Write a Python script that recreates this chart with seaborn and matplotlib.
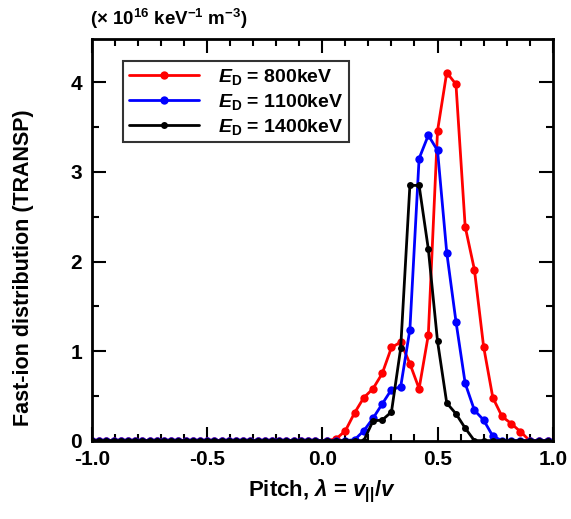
import numpy as np
import pandas as pd
import matplotlib
matplotlib.use("Agg")
import matplotlib.pyplot as plt
import seaborn as sns
from matplotlib.ticker import MultipleLocator

# ---- data ----
pitch_left = np.arange(32) / 32.0 - 1.0          # dense zero region
pitch_right = np.round(np.arange(25) * 0.04 + 0.02, 2)
pitch = np.concatenate([pitch_left, pitch_right])

zeros_left = [0.0] * len(pitch_left)
red_right = [0, 0.02, 0.11, 0.31, 0.48, 0.58, 0.75, 1.04, 1.10, 0.86, 0.58, 1.18,
             3.46, 4.11, 3.98, 2.39, 1.91, 1.05, 0.48, 0.27, 0.19, 0.10, 0.0, 0, 0]
blue_right = [0, 0, 0, 0.01, 0.11, 0.25, 0.41, 0.57, 0.60, 1.24, 3.15, 3.41, 3.24,
              2.10, 1.33, 0.64, 0.34, 0.23, 0.05, 0, 0, 0, 0, 0, 0]
black_right = [0, 0, 0, 0, 0.0, 0.22, 0.23, 0.32, 1.03, 2.85, 2.85, 2.14, 1.11,
               0.42, 0.30, 0.14, 0.0, 0, 0, 0, 0, 0, 0, 0, 0]

f800 = zeros_left + red_right
f1100 = zeros_left + blue_right
f1400 = zeros_left + black_right

labels = [r"$E_{\mathrm{D}}$ = 800keV", r"$E_{\mathrm{D}}$ = 1100keV", r"$E_{\mathrm{D}}$ = 1400keV"]
colors = ["#ff0000", "#0000ff", "#000000"]

sns.set_theme(style="white")
plt.rcParams["font.family"] = ["Liberation Sans", "DejaVu Sans"]
plt.rcParams["font.weight"] = "bold"
plt.rcParams["text.color"] = "black"
plt.rcParams["axes.labelcolor"] = "black"
plt.rcParams["xtick.color"] = "black"
plt.rcParams["ytick.color"] = "black"
plt.rcParams["mathtext.fontset"] = "custom"
plt.rcParams["mathtext.rm"] = "Liberation Sans:bold"
plt.rcParams["mathtext.it"] = "Liberation Sans:bold:italic"
plt.rcParams["mathtext.bf"] = "Liberation Sans:bold"

fig = plt.figure(figsize=(5.71, 5.19), dpi=100)
ax = fig.add_axes([0.161, 0.151, 0.807, 0.773])

for vals, lab, col, ms in zip([f800, f1100, f1400], labels, colors, [6, 6, 5]):
    sns.lineplot(x=pitch, y=vals, ax=ax, color=col, marker="o", markersize=ms,
                 markeredgewidth=0, linewidth=2, label=lab, estimator=None, sort=False)

ax.set_xlim(-1.0, 1.0)
ax.set_ylim(0, 4.48)
ax.xaxis.set_minor_locator(MultipleLocator(0.1))
ax.yaxis.set_minor_locator(MultipleLocator(0.5))
ax.set_xticks([-1.0, -0.5, 0.0, 0.5, 1.0])
ax.set_xticklabels(["-1.0", "-0.5", "0.0", "0.5", "1.0"])
ax.set_yticks([0, 1, 2, 3, 4])
ax.set_yticklabels(["0", "1", "2", "3", "4"])
ax.tick_params(which="both", direction="in", top=True, right=True, bottom=True, left=True,
               labelsize=15, width=1.5, color="black", labelcolor="black")
ax.tick_params(which="major", length=10, pad=7)
ax.tick_params(which="minor", length=5)
for lab_ in ax.get_xticklabels() + ax.get_yticklabels():
    lab_.set_fontweight("bold")
for sp in ax.spines.values():
    sp.set_linewidth(2)
    sp.set_color("black")

ax.set_xlabel(r"Pitch, $\lambda$ = $v_{||}/v$", fontsize=16, fontweight="bold",
              labelpad=6, color="black")
ax.set_ylabel("Fast-ion distribution (TRANSP)", fontsize=15.5, fontweight="bold",
              color="black")
ax.yaxis.set_label_coords(-0.125, 0.43)

fig.text(0.157, 0.963, r"($\times$ 10$^{16}$ keV$^{-1}$ m$^{-3}$)", fontsize=13.5,
         fontweight="bold", ha="left", va="center", color="black")

leg = ax.legend(loc="upper left", bbox_to_anchor=(0.067, 0.946), borderaxespad=0,
                frameon=True, fancybox=False, fontsize=14, handlelength=3.6,
                borderpad=0.3, labelspacing=0.25, handletextpad=1.0)
leg.get_frame().set_edgecolor("black")
leg.get_frame().set_linewidth(1.5)
for t in leg.get_texts():
    t.set_fontweight("bold")
    t.set_color("black")

fig.savefig("out.png", dpi=100)
